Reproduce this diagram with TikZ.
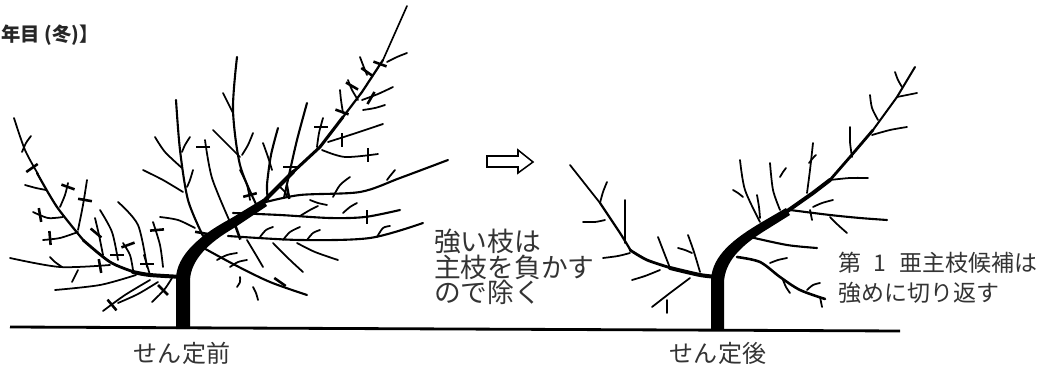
\documentclass[tikz,border=0pt]{standalone}
\usepackage{fontspec}
\usepackage{tikz}
\newfontfamily\jp{Noto Sans CJK JP}
\tikzset{limb/.style={line width=2.6pt,line cap=round,line join=round},
  bough/.style={line width=1.8pt,line cap=round},
  twig/.style={line width=1.5pt,line cap=round},
  cutmark/.style={line width=2.2pt,line cap=butt},
  note/.style={font=\jp\fontsize{22.8}{22}\selectfont,text=black!80,inner sep=0pt,align=left},
  stage/.style={font=\jp\fontsize{20.5}{22}\selectfont,text=black!80,inner sep=0pt},}

\begin{document}
\begin{tikzpicture}[x=0.03cm,y=-0.03cm]
    \useasboundingbox (0,0) rectangle (1054,369);
    % ground
    \draw[line width=2.4pt] (10,327) -- (900,331);

    % before pruning: trunk and limbs
    \fill (176,329) -- (176,278) .. controls (177,255) and (200,235) .. (230,219) -- (263,199) -- (267,206) -- (234,228) .. controls (208,243) and (191,260) .. (190,280) -- (190,329) -- cycle;
    \draw[limb,line width=3.6pt] (262,203) -- (293,172);
    \draw[limb,line width=2.6pt] (293,172) -- (320,147) -- (343,117);
    \draw[limb,line width=1.9pt] (343,117) -- (362,92) -- (383,60);
    \draw[limb,line width=1.4pt] (383,60) -- (407,6);
    \draw[limb,line width=3.4pt] plot[smooth] coordinates {(183,277) (150,275) (133,272)};
    \draw[limb,line width=2.4pt] plot[smooth] coordinates {(134,272) (110,262) (83,240)};
    \draw[limb,line width=1.9pt] plot[smooth] coordinates {(84,241) (57,207) (37,173)};
    \draw[limb,line width=1.5pt] plot[smooth] coordinates {(38,174) (25,150) (14,118)};
    \draw[bough] plot[smooth] coordinates {(176,100) (180,150) (188,200) (203,236)};
    \draw[bough] plot[smooth] coordinates {(237,57) (233,110) (240,165) (256,204)};
    \draw[bough] plot[smooth] coordinates {(307,103) (297,140) (289,175) (284,198)};
    \draw[bough] plot[smooth] coordinates {(278,128) (271,155) (267,185) (268,200)};
    \draw[bough] plot[smooth] coordinates {(262,203) (300,195) (360,192) (400,178) (448,160)};
    \draw[bough] plot[smooth] coordinates {(233,213) (280,215) (330,218) (365,217) (400,210)};
    \draw[bough] plot[smooth] coordinates {(228,236) (300,240) (370,238) (423,223)};
    \draw[bough] plot[smooth] coordinates {(200,246) (235,265) (270,282) (307,295)};
    \foreach \ax/\ay/\bx/\by/\cx/\cy in {10/258/60/267/110/265, 55/290/100/285/136/275,
        150/280/125/295/103/311, 158/282/138/294/118/303, 172/278/164/290/152/302,
        22/152/26/143/31/136, 25/185/36/188/46/190, 33/212/48/218/63/217,
        43/240/60/238/78/232, 68/183/65/195/60/207, 87/180/83/205/78/230,
        95/218/99/235/103/255, 100/210/112/232/118/260, 118/202/138/225/147/267,
        123/243/130/255/133/270, 153/222/160/245/163/267, 144/255/147/265/150/275,
        50/257/55/262/62/267, 72/282/75/276/78/270, 155/137/165/152/182/168,
        143/170/163/180/183/192, 190/137/185/145/182/152, 193/170/190/180/187/187,
        160/217/178/220/195/228, 205/140/212/178/230/222, 223/93/228/103/233/113,
        213/130/228/145/240/157, 253/133/248/145/242/155, 263/143/268/157/272/170,
        240/170/247/185/250/200, 360/57/363/65/367/75, 387/62/397/57/407/53,
        348/80/352/90/358/100, 340/90/341/100/343/113, 362/100/378/94/393/87,
        363/110/375/108/385/105, 328/142/350/135/383/124, 322/150/345/157/378/154,
        317/147/319/133/323/118, 333/197/340/185/350/177, 387/180/390/176/395/170,
        310/200/318/203/327/205, 280/187/285/192/287/197, 343/213/350/207/357/203,
        300/216/310/210/318/206, 260/237/266/230/273/227, 283/240/290/232/300/227,
        307/240/313/233/320/230, 377/237/383/228/390/226, 247/240/256/255/263/267,
        273/243/290/260/303/272, 297/243/315/252/338/260, 217/260/227/255/237/253,
        230/267/238/262/247/260, 253/287/256/293/258/300, 240/277/240/282/237/287}
      \draw[twig] plot[smooth] coordinates {(\ax,\ay) (\bx,\by) (\cx,\cy)};
    % cuts
    \foreach \x/\y/\a in {32/168/-35, 68/187/20, 85/200/10, 40/215/80, 50/238/85,
        96/233/40, 117/255/0, 128/245/-20, 100/266/80, 157/230/-5, 147/264/0,
        163/290/45, 112/305/50, 203/147/0, 250/195/-15, 288/192/80, 290/167/0,
        202/233/10, 238/233/70, 280/282/35, 321/127/0, 342/140/90, 368/155/90,
        352/86/30, 367/72/35, 380/64/20, 342/112/20, 371/98/-60, 367/217/90}
      \draw[cutmark] (\x,\y) ++(\a:7) -- ++(\a+180:14);

    % arrow
    \draw[line width=1.3pt,line join=miter] (487,156) -- (518,156) -- (518,150) -- (533,162) -- (518,173) -- (518,167) -- (487,167) -- cycle;

    % after pruning
    \fill (711,329) -- (711,280) .. controls (712,255) and (735,238) .. (762,222) -- (786,208) -- (790,215) -- (766,230) .. controls (740,246) and (725,262) .. (724,282) -- (724,329) -- cycle;
    \draw[limb,line width=3.4pt] (786,212) -- (813,193) -- (830,180);
    \draw[limb,line width=2.4pt] (830,180) -- (850,157) -- (873,130);
    \draw[limb,line width=1.7pt] (873,130) -- (897,97) -- (915,67);
    \draw[limb,line width=3.4pt] plot[smooth] coordinates {(718,277) (700,275) (670,268)};
    \draw[limb,line width=2.4pt] plot[smooth] coordinates {(671,268) (647,260) (630,250)};
    \draw[limb,line width=1.9pt] plot[smooth] coordinates {(631,251) (620,233) (600,203)};
    \draw[limb,line width=1.5pt] (600,203) -- (570,165);
    \draw[bough] plot[smooth] coordinates {(790,210) (830,215) (860,218) (887,220)};
    \draw[bough] plot[smooth] coordinates {(750,237) (787,245) (817,248)};
    \draw[bough,line width=2.2pt] plot[smooth] coordinates {(737,257) (760,262) (780,277) (800,290) (825,299)};
    \foreach \ax/\ay/\bx/\by/\cx/\cy in {895/72/898/80/902/87, 897/97/907/95/917/93,
        870/95/872/108/878/120, 872/135/890/130/907/127, 850/127/850/142/852/157,
        830/180/850/178/868/178, 813/143/810/170/807/193, 809/163/813/158/816/155,
        813/207/822/203/833/200, 810/210/811/215/812/220, 830/217/838/225/847/233,
        770/163/773/190/780/210, 780/177/783/172/786/168, 740/160/745/190/760/222,
        733/190/738/193/743/197, 757/195/759/207/760/218, 770/263/778/260/787/258,
        783/280/786/287/790/293, 807/290/813/285/820/283, 820/297/821/302/822/307,
        600/203/603/192/607/182, 605/220/595/222/583/222, 625/243/625/220/625/200,
        630/253/618/256/603/258, 670/268/663/250/658/237, 660/270/645/276/632/280,
        700/272/694/252/688/235, 692/253/685/250/678/248, 690/278/670/293/652/307,
        667/300/667/306/667/313}
      \draw[twig] plot[smooth] coordinates {(\ax,\ay) (\bx,\by) (\cx,\cy)};

    % labels
    \node[anchor=west,inner sep=0pt,text=black!85,font=\jp\bfseries\fontsize{16.5}{18}\selectfont] (title) at (1,35) {年目 (冬)】};
    \node[note,anchor=west] (strong) at (434,267) {強い枝は\\主枝を負かす\\ので除く};
    \node[note,anchor=west,font=\jp\fontsize{19.6}{25.5}\selectfont] (cutback) at (838,278) {第\hspace{0.55em}1\hspace{0.55em}亜主枝候補は\\強めに切り返す};
    \node[stage] (before) at (182,353) {せん定前};
    \node[stage] (after) at (718,353) {せん定後};
\end{tikzpicture}
\end{document}
